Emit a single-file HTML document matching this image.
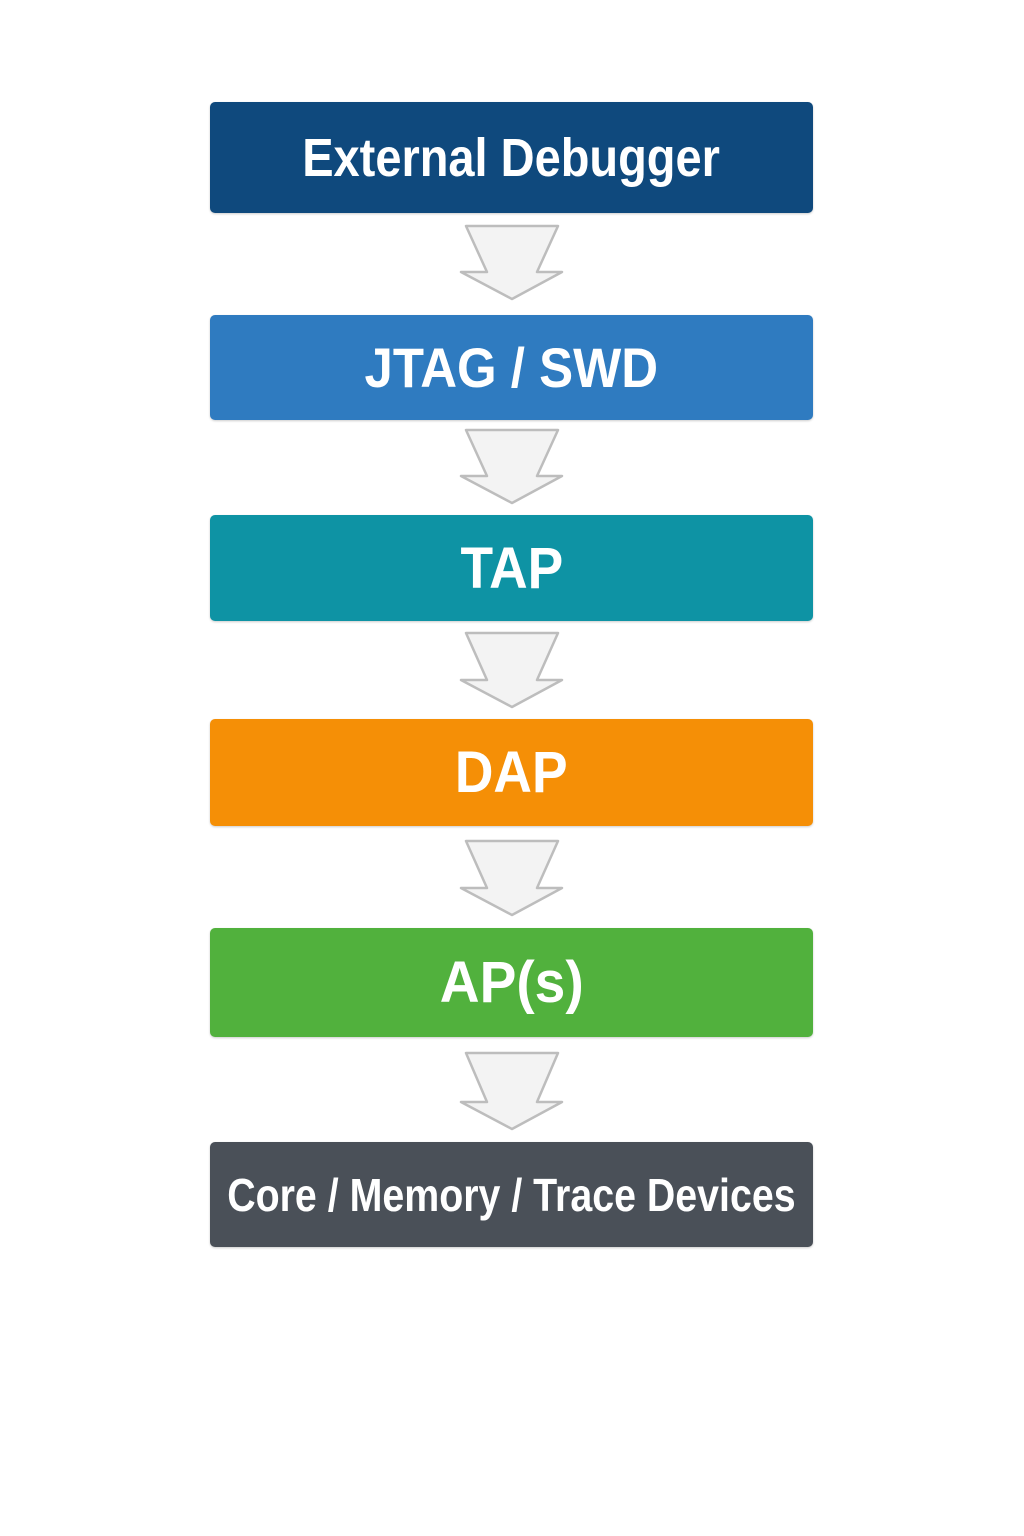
<!DOCTYPE html>
<html><head><style>
body{margin:0;width:1024px;height:1536px;background:#fff;position:relative;overflow:hidden;font-family:"Liberation Sans",sans-serif}
.b{position:absolute;left:210px;width:603px;border-radius:5px;display:flex;align-items:center;justify-content:center;color:#fff;font-weight:bold;box-shadow:0 1px 2px rgba(0,0,0,.2)}
.b span{display:inline-block;white-space:nowrap}
svg{position:absolute;left:0;top:0}
</style></head><body>
<div class="b" style="top:102px;height:111px;background:#0f497d;font-size:54px"><span style="transform:scaleX(0.87)">External Debugger</span></div>
<div class="b" style="top:315px;height:105px;background:#2f7bc0;font-size:56px"><span style="transform:scaleX(0.91)">JTAG / SWD</span></div>
<div class="b" style="top:515px;height:106px;background:#0e93a4;font-size:58px"><span style="transform:scaleX(0.92)">TAP</span></div>
<div class="b" style="top:719px;height:107px;background:#f58f06;font-size:58px"><span style="transform:scaleX(0.92)">DAP</span></div>
<div class="b" style="top:928px;height:109px;background:#51b13d;font-size:58px"><span style="transform:scaleX(0.95)">AP(s)</span></div>
<div class="b" style="top:1142px;height:105px;background:#4a5058;font-size:46px"><span style="transform:scaleX(0.855)">Core / Memory / Trace Devices</span></div>
<svg width="1024" height="1536">
<g fill="#f3f3f3" stroke="#bdbdbd" stroke-width="2.5" stroke-linejoin="round">
<polygon points="466,226 558,226 537,272 562,272 512,299 461,272 487,272"/>
<polygon points="466,430 558,430 537,476 562,476 512,503 461,476 487,476"/>
<polygon points="466,633 558,633 537,680 562,680 512,707 461,680 487,680"/>
<polygon points="466,841 558,841 537,888 562,888 512,915 461,888 487,888"/>
<polygon points="466,1053 558,1053 537,1102 562,1102 512,1129 461,1102 487,1102"/>
</g></svg>
</body></html>
